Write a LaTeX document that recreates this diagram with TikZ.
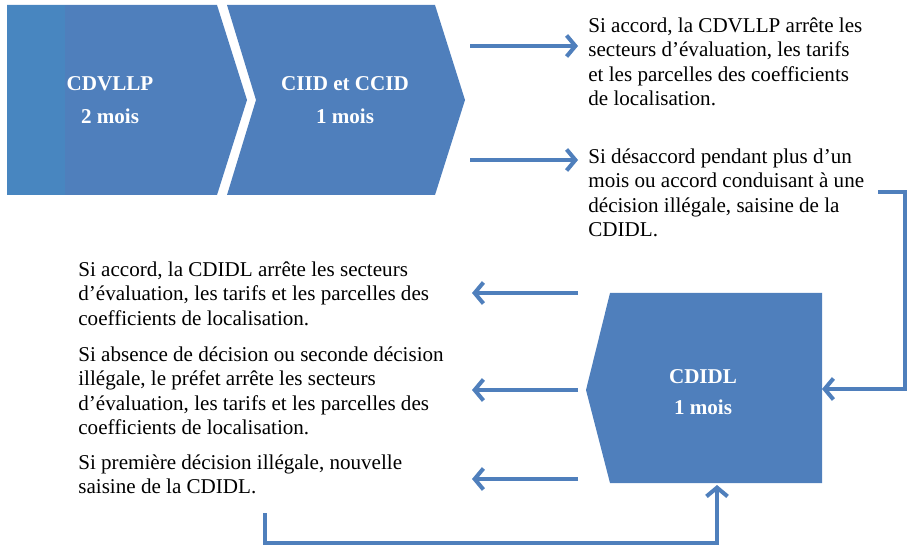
\documentclass[tikz,border=0pt]{standalone}
\usepackage{fontspec}
\setmainfont{Liberation Serif}
\usetikzlibrary{arrows.meta}
\definecolor{boxblue}{HTML}{4F7FBC}
\definecolor{stripblue}{HTML}{4886C0}

\begin{document}
\begin{tikzpicture}[x=0.02cm, y=-0.02cm,
  box/.style={fill=boxblue, draw=none},
  title/.style={text=white, align=center, font=\fontsize{12}{19}\selectfont\bfseries},
  note/.style={anchor=north west, inner sep=0pt, align=left, font=\fontsize{12}{14}\selectfont},
  flow/.style={draw=boxblue, line width=2.3pt, ->, >={Straight Barb[length=5pt,width=12pt]}}]

\useasboundingbox (0,0) rectangle (908,546);

% the three blue shapes
\fill[box] (7,5) -- (217,5) -- (247,100) -- (217,195) -- (7,195) -- cycle;
\fill[stripblue] (7,5) rectangle (65,195);
\fill[box] (227,5) -- (435,5) -- (465,100) -- (435,195) -- (227,195) -- (256,100) -- cycle;
\fill[box] (610,293) -- (822,293) -- (822,483) -- (610,483) -- (586,390) -- cycle;

\node[title] (cdvllp) at (110,100) {CDVLLP\\2 mois};
\node[title] (ciid) at (345,100) {CIID et CCID\\1 mois};
\node[title, font=\fontsize{12}{17.5}\selectfont\bfseries] (cdidl) at (703,392) {CDIDL\\1 mois};

% texts
\node[note] (accord1) at (588,17) {Si accord, la CDVLLP arrête les\\secteurs d’évaluation, les tarifs\\et les parcelles des coefficients\\de localisation.};
\node[note] (desaccord) at (588,148) {Si désaccord pendant plus d’un\\mois ou accord conduisant à une\\décision illégale,  saisine de la\\CDIDL.};
\node[note] (accord2) at (78,261) {Si accord, la CDIDL arrête les secteurs\\d’évaluation, les tarifs et les parcelles des\\coefficients de localisation.};
\node[note] (prefet) at (78,346) {Si absence de décision  ou seconde décision\\illégale,  le préfet arrête les secteurs\\d’évaluation, les tarifs et les parcelles des\\coefficients de localisation.};
\node[note] (nouvelle) at (78,454) {Si première décision illégale,  nouvelle\\saisine de la CDIDL.};

% connector ends
\coordinate (t1a) at (470,46);  \coordinate (t1b) at (578,46);
\coordinate (t2a) at (470,160); \coordinate (t2b) at (578,160);
\coordinate (r1) at (878,192);  \coordinate (r2) at (905,192);
\coordinate (r3) at (905,389);  \coordinate (r4) at (822,389);
\coordinate (l1a) at (578,293); \coordinate (l1b) at (472,293);
\coordinate (l2a) at (578,390); \coordinate (l2b) at (472,390);
\coordinate (l3a) at (578,479); \coordinate (l3b) at (472,479);
\coordinate (b1) at (265,513);  \coordinate (b2) at (265,543);
\coordinate (b3) at (717,543);  \coordinate (b4) at (717,485);

\draw[flow] (t1a) -- (t1b);
\draw[flow] (t2a) -- (t2b);
\draw[flow] (r1) -- (r2) -- (r3) -- (r4);
\draw[flow] (l1a) -- (l1b);
\draw[flow] (l2a) -- (l2b);
\draw[flow] (l3a) -- (l3b);
\draw[flow] (b1) -- (b2) -- (b3) -- (b4);

\end{tikzpicture}
\end{document}
